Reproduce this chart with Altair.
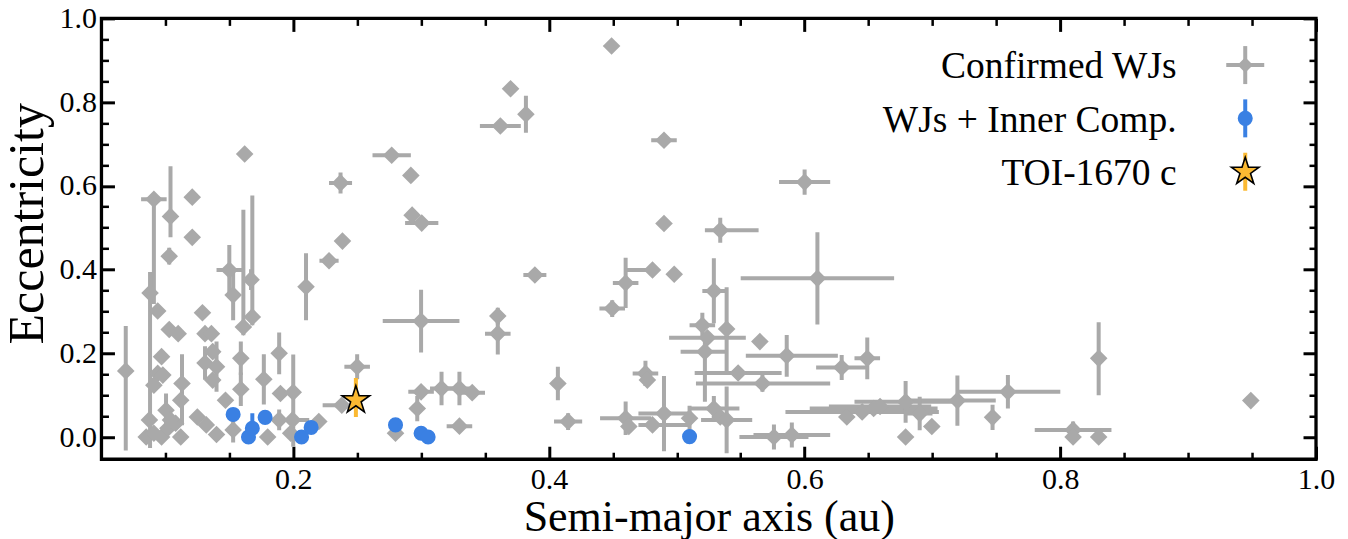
import math
import pandas as pd
import altair as alt

# ---------------- data ----------------
# Confirmed warm Jupiters: semi-major axis (au), eccentricity and errors
wj_a = [0.069, 0.091, 0.088, 0.104, 0.103, 0.121, 0.121, 0.162, 0.237, 0.228,
        0.2385, 0.094, 0.103, 0.110, 0.129, 0.131, 0.136, 0.150, 0.153, 0.161,
        0.168, 0.167, 0.097, 0.094, 0.091, 0.098, 0.113, 0.112, 0.131, 0.137,
        0.140, 0.137, 0.159, 0.159, 0.147, 0.177, 0.189, 0.190, 0.200, 0.210,
        0.238, 0.085, 0.0875, 0.091, 0.097, 0.1005, 0.102, 0.108, 0.112, 0.104,
        0.125, 0.132, 0.140, 0.153, 0.180, 0.189, 0.198, 0.1995, 0.220, 0.449,
        0.370, 0.382, 0.362, 0.277, 0.292, 0.293, 0.3005, 0.389, 0.460, 0.481,
        0.4495, 0.300, 0.360, 0.360, 0.250, 0.300, 0.297, 0.316, 0.330, 0.340,
        0.280, 0.330, 0.407, 0.415, 0.460, 0.4755, 0.477, 0.481, 0.490, 0.534,
        0.498, 0.529, 0.539, 0.520, 0.524, 0.522, 0.565, 0.586, 0.548, 0.567,
        0.4625, 0.490, 0.510, 0.529, 0.534, 0.539, 0.576, 0.590, 0.600, 0.490,
        0.610, 0.649, 0.629, 0.633, 0.654, 0.659, 0.645, 0.679, 0.690, 0.6995,
        0.679, 0.7195, 0.759, 0.747, 0.810, 0.810, 0.830, 0.830, 0.949]
wj_e = [0.158, 0.568, 0.344, 0.527, 0.432, 0.573, 0.477, 0.676, 0.607, 0.421,
        0.468, 0.301, 0.257, 0.247, 0.297, 0.247, 0.247, 0.399, 0.339, 0.263,
        0.287, 0.376, 0.192, 0.152, 0.124, 0.148, 0.128, 0.088, 0.177, 0.204,
        0.168, 0.136, 0.188, 0.114, 0.088, 0.138, 0.200, 0.104, 0.107, 0.359,
        0.076, 0.000, 0.041, 0.009, 0.000, 0.064, 0.021, 0.033, 0.000, 0.041,
        0.048, 0.029, 0.006, 0.017, 0.000, 0.041, 0.009, 0.041, 0.037, 0.934,
        0.832, 0.771, 0.743, 0.673, 0.625, 0.530, 0.511, 0.387, 0.368, 0.399,
        0.307, 0.277, 0.289, 0.247, 0.168, 0.108, 0.068, 0.116, 0.116, 0.106,
        0.009, 0.026, 0.128, 0.037, 0.045, 0.152, 0.136, 0.029, 0.510, 0.494,
        0.389, 0.349, 0.258, 0.267, 0.237, 0.204, 0.228, 0.194, 0.153, 0.128,
        0.025, 0.056, 0.045, 0.068, 0.048, 0.041, 0.000, 0.005, 0.609, 0.709,
        0.379, 0.188, 0.166, 0.048, 0.068, 0.073, 0.060, 0.084, 0.056, 0.025,
        0.000, 0.087, 0.108, 0.047, 0.017, 0.000, 0.000, 0.188, 0.087]
wj_a_err_lo = [0, 0.01, 0, 0, 0, 0, 0, 0, 0.009, 0.0075,
               0, 0, 0, 0, 0, 0, 0, 0.01, 0, 0,
               0, 0, 0, 0, 0, 0, 0, 0, 0, 0,
               0, 0, 0, 0, 0, 0, 0, 0, 0, 0,
               0.015, 0, 0, 0, 0, 0, 0, 0, 0, 0,
               0, 0, 0, 0, 0, 0, 0, 0.013, 0, 0,
               0, 0, 0.016, 0.015, 0, 0, 0.013, 0.009, 0.01, 0.021,
               0.01, 0.03, 0, 0.01, 0.01, 0.01, 0, 0.009, 0.01, 0.01,
               0, 0.01, 0, 0.011, 0.02, 0.01, 0, 0.011, 0, 0.012,
               0, 0.009, 0, 0.01, 0.03, 0.019, 0, 0.032, 0.034, 0.052,
               0, 0.02, 0, 0.02, 0, 0.02, 0.027, 0.03, 0.02, 0.01,
               0.06, 0.01, 0.02, 0, 0.05, 0.04, 0.06, 0.04, 0.01, 0,
               0, 0.038, 0.039, 0, 0.03, 0, 0, 0, 0]
wj_a_err_hi = [0, 0.01, 0, 0, 0, 0, 0, 0, 0.009, 0.0075,
               0, 0, 0, 0, 0, 0, 0, 0.01, 0, 0,
               0, 0, 0, 0, 0, 0, 0, 0, 0, 0,
               0, 0, 0, 0, 0, 0, 0, 0, 0, 0,
               0.003, 0, 0, 0, 0, 0, 0, 0, 0, 0,
               0, 0, 0, 0, 0, 0, 0, 0.013, 0, 0,
               0, 0, 0.016, 0.015, 0, 0, 0.013, 0.009, 0.01, 0,
               0.01, 0.03, 0, 0.01, 0.01, 0.01, 0, 0.009, 0.01, 0.01,
               0, 0.01, 0, 0.011, 0.02, 0.01, 0, 0.028, 0, 0.03,
               0, 0.009, 0, 0.01, 0.03, 0.016, 0, 0.04, 0.034, 0.053,
               0, 0.02, 0, 0.02, 0, 0.02, 0.027, 0.03, 0.02, 0.01,
               0.06, 0.01, 0.02, 0, 0.05, 0.04, 0.06, 0.04, 0.01, 0,
               0, 0.03, 0.041, 0, 0.03, 0, 0, 0, 0]
wj_e_err_lo = [0.19, 0.25, 0.37, 0.05, 0.02, 0, 0, 0, 0.025, 0,
               0, 0, 0, 0, 0, 0, 0, 0.06, 0.06, 0.02,
               0.02, 0.025, 0, 0, 0, 0, 0.1, 0, 0.04, 0,
               0.06, 0, 0.04, 0.04, 0, 0.06, 0.05, 0, 0.13, 0.08,
               0, 0, 0, 0, 0, 0.04, 0, 0, 0, 0,
               0, 0, 0, 0.03, 0, 0.025, 0, 0, 0, 0,
               0, 0.044, 0, 0, 0, 0, 0, 0, 0.06, 0,
               0.02, 0.075, 0.02, 0.05, 0.03, 0, 0.03, 0.04, 0.04, 0,
               0, 0, 0.04, 0.02, 0.04, 0.03, 0, 0, 0, 0.03,
               0, 0.077, 0.1, 0.03, 0, 0.12, 0, 0.05, 0, 0.02,
               0, 0.09, 0.03, 0.03, 0, 0.08, 0.03, 0.03, 0.03, 0.01,
               0.11, 0.05, 0.03, 0, 0, 0, 0, 0.05, 0.04, 0.015,
               0, 0.06, 0.04, 0.03, 0.02, 0, 0, 0.088, 0]
wj_e_err_hi = [0.107, 0.0, 0.05, 0.12, 0.02, 0, 0, 0, 0.025, 0,
               0, 0, 0, 0, 0, 0, 0, 0.06, 0.06, 0.28,
               0.29, 0.025, 0, 0, 0, 0, 0.07, 0, 0.04, 0,
               0.06, 0, 0.04, 0.04, 0, 0.06, 0.05, 0, 0.09, 0.08,
               0, 0, 0, 0, 0, 0.04, 0, 0, 0, 0,
               0, 0, 0, 0.03, 0, 0.025, 0, 0, 0, 0,
               0, 0.044, 0, 0, 0, 0, 0, 0, 0.06, 0,
               0.02, 0.075, 0.02, 0.05, 0.03, 0, 0.03, 0.04, 0.04, 0,
               0, 0, 0.04, 0.02, 0.04, 0.03, 0, 0, 0, 0.03,
               0, 0.078, 0.1, 0.03, 0, 0.04, 0, 0.05, 0, 0.02,
               0, 0.09, 0.03, 0.03, 0, 0.08, 0.03, 0.03, 0.03, 0.01,
               0.11, 0.05, 0.03, 0, 0, 0, 0, 0.05, 0.04, 0.015,
               0, 0.06, 0.04, 0.03, 0.02, 0, 0, 0.086, 0]

# Warm Jupiters with inner companions
inner_a = [0.153, 0.165, 0.168, 0.178, 0.2065, 0.214, 0.280, 0.300, 0.3055, 0.510]
inner_e = [0.054, 0.000, 0.021, 0.047, 0.000, 0.023, 0.029, 0.009, 0.000, 0.001]
inner_e_err_lo = [0.01, 0.0, 0.01, 0.01, 0.0, 0.01, 0.01, 0.005, 0.0, 0.0]
inner_e_err_hi = [0.01, 0.01, 0.036, 0.01, 0.01, 0.01, 0.01, 0.005, 0.01, 0.01]

# TOI-1670 c
toi_a = [0.249]
toi_e = [0.088]
toi_e_err_lo = [0.040]
toi_e_err_hi = [0.053]

legend_labels = ["Confirmed WJs", "WJs + Inner Comp.", "TOI-1670 c"]

x_major = [0.2, 0.4, 0.6, 0.8, 1.0]
x_minor = [0.1, 0.15, 0.25, 0.3, 0.35, 0.45, 0.5, 0.55, 0.65, 0.7, 0.75, 0.85, 0.9, 0.95]
y_major = [0.0, 0.2, 0.4, 0.6, 0.8, 1.0]
y_minor = [0.05, 0.1, 0.15, 0.25, 0.3, 0.35, 0.45, 0.5, 0.55, 0.65, 0.7, 0.75, 0.85, 0.9, 0.95]

# ---------------- tables ----------------
wj = pd.DataFrame({"a": wj_a, "e": wj_e})
wj["a_lo"] = wj["a"] - pd.Series(wj_a_err_lo)
wj["a_hi"] = wj["a"] + pd.Series(wj_a_err_hi)
wj["e_lo"] = wj["e"] - pd.Series(wj_e_err_lo)
wj["e_hi"] = wj["e"] + pd.Series(wj_e_err_hi)

inner = pd.DataFrame({"a": inner_a, "e": inner_e})
inner["e_lo"] = inner["e"] - pd.Series(inner_e_err_lo)
inner["e_hi"] = inner["e"] + pd.Series(inner_e_err_hi)

toi = pd.DataFrame({"a": toi_a, "e": toi_e})
toi["e_lo"] = toi["e"] - pd.Series(toi_e_err_lo)
toi["e_hi"] = toi["e"] + pd.Series(toi_e_err_hi)

# ---------------- style ----------------
FONT = "Liberation Serif"
GRAY = "#a9a9a9"
BLUE = "#3a80e3"
ORANGE = "#fbb932"
XS = alt.Scale(domain=[0.05, 1.0], nice=False, zero=False)
YS = alt.Scale(domain=[-0.053, 1.0], nice=False, zero=False)
MAJ, MIN = 13, 7

star_pts = []
for i in range(10):
    ang = math.radians(-90 + 36 * i)
    r = 1.0 if i % 2 == 0 else 0.382
    star_pts.append(f"{r * math.cos(ang):.4f},{r * math.sin(ang):.4f}")
STAR = "M" + " L".join(star_pts) + " Z"


def tick_axis(orient, values, size, width, **kw):
    return alt.Axis(orient=orient, values=values, tickSize=size, offset=-size,
                    tickWidth=width, tickColor="black", domain=False, grid=False, **kw)


no_labels = dict(labels=False, title=None)
label_style = dict(format=".1f", labelFont=FONT, labelFontSize=30, labelColor="black",
                   labelPadding=5, labelFlush=False, labelOverlap=False)
title_style = dict(titleFont=FONT, titleFontWeight="normal",
                   titleColor="black", titleBaseline="alphabetic")

ax_bottom = tick_axis("bottom", x_major, MAJ, 3, title="Semi-major axis (au)",
                      titleY=84, titleFontSize=44, **label_style, **title_style)
ax_left = tick_axis("left", y_major, MAJ, 3, title="Eccentricity",
                    titleX=-71.5, titleY=205, titleAlign="center", titleFontSize=50,
                    **label_style, **title_style)
ax_bottom_min = tick_axis("bottom", x_minor, MIN, 2.5, **no_labels)
ax_left_min = tick_axis("left", y_minor, MIN, 2.5, **no_labels)
ax_top = tick_axis("top", x_major, MAJ, 3, **no_labels)
ax_right = tick_axis("right", y_major, MAJ, 3, **no_labels)
ax_top_min = tick_axis("top", x_minor, MIN, 2.5, **no_labels)
ax_right_min = tick_axis("right", y_minor, MIN, 2.5, **no_labels)

# ---------------- data layers ----------------
wj_hbar = alt.Chart(wj).mark_rule(color=GRAY, strokeWidth=4, clip=True).encode(
    x=alt.X("a_lo:Q", scale=XS, axis=ax_bottom), x2="a_hi:Q",
    y=alt.Y("e:Q", scale=YS, axis=ax_left))
wj_vbar = alt.Chart(wj).mark_rule(color=GRAY, strokeWidth=4, clip=True).encode(
    x=alt.X("a:Q", scale=XS, axis=ax_bottom_min),
    y=alt.Y("e_lo:Q", scale=YS, axis=ax_left_min), y2="e_hi:Q")
wj_pts = alt.Chart(wj).mark_point(shape="diamond", filled=True, size=310, color=GRAY,
                                  opacity=1, clip=True).encode(
    x=alt.X("a:Q", scale=XS, axis=ax_top),
    y=alt.Y("e:Q", scale=YS, axis=ax_right))

inner_bar = alt.Chart(inner).mark_rule(color=BLUE, strokeWidth=4, clip=True).encode(
    x=alt.X("a:Q", scale=XS, axis=None),
    y=alt.Y("e_lo:Q", scale=YS, axis=None), y2="e_hi:Q")
inner_pts = alt.Chart(inner).mark_point(shape="circle", filled=True, size=227, color=BLUE,
                                        opacity=1, clip=True).encode(
    x=alt.X("a:Q", scale=XS, axis=ax_top_min),
    y=alt.Y("e:Q", scale=YS, axis=ax_right_min))

toi_bar = alt.Chart(toi).mark_rule(color=ORANGE, strokeWidth=4, clip=True).encode(
    x=alt.X("a:Q", scale=XS, axis=None),
    y=alt.Y("e_lo:Q", scale=YS, axis=None), y2="e_hi:Q")
toi_pt = alt.Chart(toi).mark_point(shape=STAR, filled=True, size=841, fill=ORANGE,
                                   stroke="black", strokeWidth=1.6, opacity=1).encode(
    x=alt.X("a:Q", scale=XS, axis=None),
    y=alt.Y("e:Q", scale=YS, axis=None))

# ---------------- legend (upper right, inside the frame) ----------------
LX_TEXT, LX_SYM = 1075.5, 1144.2
rows_y = [46.7, 100.0, 153.4]
legend_layers = []
for i, lab in enumerate(legend_labels):
    d = pd.DataFrame({"label": [lab]})
    legend_layers.append(
        alt.Chart(d).mark_text(align="right", baseline="alphabetic", font=FONT,
                               fontSize=37.5, color="black").encode(
            text="label:N", x=alt.value(LX_TEXT), y=alt.value(rows_y[i] + 13.3)))

leg_d = pd.DataFrame({"label": [legend_labels[0]]})
legend_layers += [
    alt.Chart(leg_d).mark_rule(color=GRAY, strokeWidth=4).encode(
        x=alt.value(LX_SYM - 19), x2=alt.value(LX_SYM + 19), y=alt.value(rows_y[0])),
    alt.Chart(leg_d).mark_rule(color=GRAY, strokeWidth=4).encode(
        x=alt.value(LX_SYM), y=alt.value(rows_y[0] - 19), y2=alt.value(rows_y[0] + 19)),
    alt.Chart(leg_d).mark_point(shape="diamond", filled=True, size=240, color=GRAY,
                                opacity=1).encode(
        x=alt.value(LX_SYM), y=alt.value(rows_y[0])),
    alt.Chart(leg_d).mark_rule(color=BLUE, strokeWidth=4).encode(
        x=alt.value(LX_SYM), y=alt.value(rows_y[1] - 19), y2=alt.value(rows_y[1] + 19)),
    alt.Chart(leg_d).mark_point(shape="circle", filled=True, size=227, color=BLUE,
                                opacity=1).encode(
        x=alt.value(LX_SYM), y=alt.value(rows_y[1])),
    alt.Chart(leg_d).mark_rule(color=ORANGE, strokeWidth=4).encode(
        x=alt.value(LX_SYM), y=alt.value(rows_y[2] - 19), y2=alt.value(rows_y[2] + 19)),
    alt.Chart(leg_d).mark_point(shape=STAR, filled=True, size=841, fill=ORANGE,
                                stroke="black", strokeWidth=1.6, opacity=1).encode(
        x=alt.value(LX_SYM), y=alt.value(rows_y[2])),
]

chart = alt.layer(
    wj_hbar, wj_vbar, wj_pts, inner_bar, inner_pts, toi_bar, toi_pt, *legend_layers
).resolve_axis(x="independent", y="independent").properties(
    width=1215, height=441,
    autosize=alt.AutoSizeParams(type="none"),
    padding={"left": 93.5, "top": 10.3, "right": 24, "bottom": 80},
    background="white",
).configure_view(stroke="black", strokeWidth=3.3)

chart.save("out.html", embed_options={"renderer": "svg", "actions": False})
